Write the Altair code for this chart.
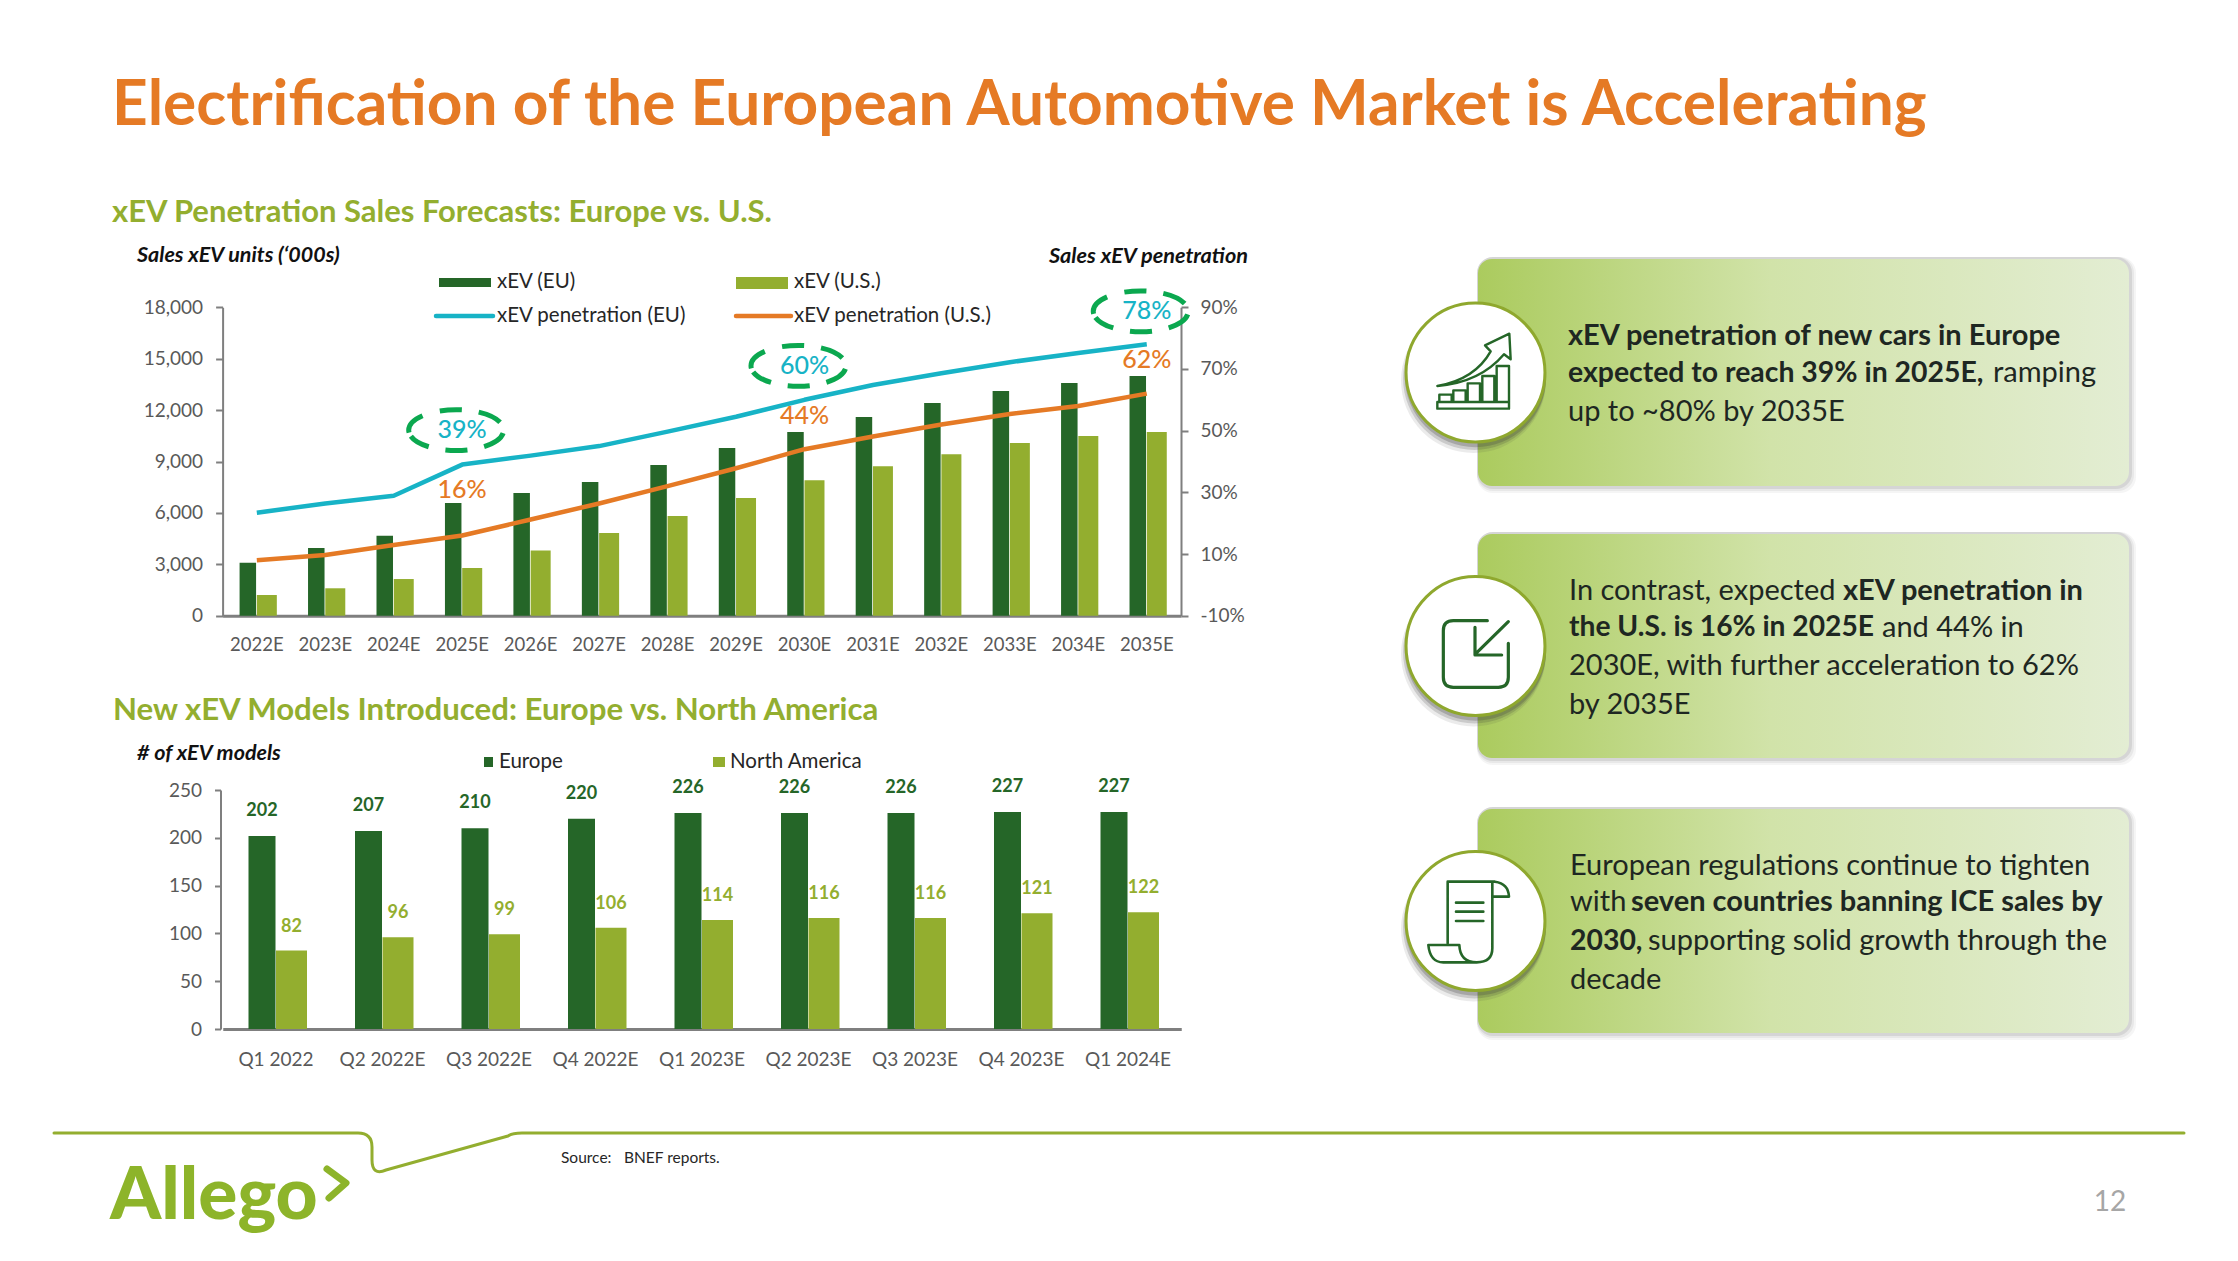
import altair as alt
import pandas as pd

# ---------- data ----------
years = ["2022E","2023E","2024E","2025E","2026E","2027E","2028E","2029E","2030E","2031E","2032E","2033E","2034E","2035E"]
sales_eu = [3090,3950,4670,6580,7160,7800,8800,9790,10720,11600,12420,13120,13580,13990]
sales_us = [1210,1600,2140,2780,3810,4830,5820,6870,7900,8720,9420,10080,10490,10720]
pen_eu = [23.4,26.4,28.9,39,41.9,45,49.7,54.5,60,64.8,68.6,72.2,75.2,78]
pen_us = [8,9.7,12.9,16,21.2,26.4,32,37.8,44,48.1,52,55.4,58,62]

quarters = ["Q1 2022","Q2 2022E","Q3 2022E","Q4 2022E","Q1 2023E","Q2 2023E","Q3 2023E","Q4 2023E","Q1 2024E"]
models_eu = [202,207,210,220,226,226,226,227,227]
models_na = [82,96,99,106,114,116,116,121,122]

df1 = pd.DataFrame({"year":years,"eu":sales_eu,"us":sales_us,"peu":pen_eu,"pus":pen_us})
df2 = pd.DataFrame({"q":quarters,"eu":models_eu,"na":models_na})

# ---------- style ----------
W, H = 2222, 1245
FONT = "Lato"
ORANGE = "#E57A25"
LGREEN = "#93AE2F"
DGREEN = "#256628"
TEAL = "#17B3C6"
DASH = "#0BA84F"
GRAY = "#595959"
AXISC = "#7F7F7F"
INK = "#1E2722"

def px(v):
    return alt.value(v - 8)

def one(**kw):
    return alt.Chart(alt.Data(values=[kw]))

def T(text, x, y, size, color=INK, weight="normal", style="normal", align="left", font=FONT):
    return one(t=text).mark_text(font=font, fontSize=size, color=color, fontWeight=weight,
                                 fontStyle=style, align=align, baseline="middle"
                                 ).encode(x=px(x), y=px(y), text="t:N")

def box(x0, y0, x1, y1, color, radius=0, opacity=1.0):
    return one(a=1).mark_rect(color=color, cornerRadius=radius, opacity=opacity).encode(
        x=px(x0), x2=px(x1), y=px(y0), y2=px(y1))

def shape(path, x, y, size, stroke, sw, cap="round"):
    return one(a=1).mark_point(shape=path, size=size, stroke=stroke, strokeWidth=sw, opacity=1,
                               strokeCap=cap, strokeJoin="round").encode(x=px(x), y=px(y))

layers = []

# ---------- panels ----------
grad = alt.LinearGradient(gradient="linear", x1=0, x2=1, y1=0, y2=0,
                          stops=[alt.GradientStop(color="#ABCB5E", offset=0),
                                 alt.GradientStop(color="#D1E3A9", offset=0.45),
                                 alt.GradientStop(color="#E3EDD3", offset=1)])
panels = [(259, 486), (534, 758), (809, 1033)]
for (y0, y1) in panels:
    for d, op in ((7, 0.06), (5, 0.08), (3, 0.12)):
        layers.append(box(1478 - 1, y0 - 2, 2129 + d, y1 + d, "#555555", 16, op))
    layers.append(box(1478, y0, 2129, y1, grad, 14))
    cy = (y0 + y1) / 2
    for (dx, dy, op, s) in ((-2, 8, 0.10, 21000), (-1, 6, 0.18, 20400), (0, 4, 0.25, 20000)):
        layers.append(one(a=1).mark_point(shape="circle", filled=True, color="#3A3A3A", opacity=op, size=s)
                      .encode(x=px(1475.5 + dx), y=px(cy + dy)))
    layers.append(one(a=1).mark_point(shape="circle", filled=True, fill="white", stroke="#8FA82E",
                                      strokeWidth=3, opacity=1, size=19300)
                  .encode(x=px(1475.5), y=px(cy)))

# icons, paths in crop units (1/3 px)
ICON = 4 / 9
icon1 = ("M112 318H327V338H112Z M118 318V296H155V318 M160 318V283H197V318 M203 318V262H240V318 "
         "M247 318V240H283V318 M290 318V210H327V318 "
         "M112 270Q225 250 272 166L255 148L328 113L332 190L312 175Q240 260 112 270Z")
layers.append(shape(icon1, 1400, 296, ICON, DGREEN, 2.4))
icon2 = ("M262 152L160 152Q130 152 130 182L130 322Q130 352 160 352L295 352Q325 352 325 322L325 220 "
         "M325 155L225 253 M225 172L225 255L305 255")
layers.append(shape(icon2, 1400, 570, ICON, DGREEN, 3.2))
icon3 = ("M143 295L143 110L285 110Q325 115 327 155L277 155L277 110 "
         "M277 155L277 310Q277 352 230 352Q180 352 178 300L85 300Q90 352 130 352L230 352 "
         "M168 173L250 173 M168 200L250 200 M168 228L250 228")
layers.append(shape(icon3, 1400, 845, ICON, DGREEN, 2.6))

# ---------- header ----------
layers.append(T("Electrification of the European Automotive Market is Accelerating", 112, 106, 62.2, ORANGE, "bold"))
layers.append(T("xEV Penetration Sales Forecasts: Europe vs. U.S.", 112, 213, 31, LGREEN, "bold"))
layers.append(T("New xEV Models Introduced: Europe vs. North America", 113, 711, 31.2, LGREEN, "bold"))
layers.append(T("Sales xEV units (‘000s)", 137, 256, 21.5, "#111111", "bold", "italic"))
layers.append(T("Sales xEV penetration", 1248, 256, 21.7, "#111111", "bold", "italic", "right"))
layers.append(T("# of xEV models", 137, 754, 21.5, "#111111", "bold", "italic"))

# ---------- legends ----------
layers.append(box(439, 278, 491, 287, DGREEN))
layers.append(box(736, 277, 788, 289, LGREEN))
for (x0, x1, c) in ((436, 493, TEAL), (736, 791, ORANGE)):
    layers.append(one(a=1).mark_rule(color=c, strokeWidth=4.5, strokeCap="round").encode(x=px(x0), x2=px(x1), y=px(316)))
layers.append(T("xEV (EU)", 497, 282, 20.5, "#262626"))
layers.append(T("xEV (U.S.)", 794, 282, 20.5, "#262626"))
layers.append(T("xEV penetration (EU)", 497, 316, 20.5, "#262626"))
layers.append(T("xEV penetration (U.S.)", 794, 316, 20.5, "#262626"))
layers.append(box(484, 757, 493, 767, DGREEN))
layers.append(box(713, 757, 725, 767, LGREEN))
layers.append(T("Europe", 499, 762, 20.5, "#262626"))
layers.append(T("North America", 730, 762, 20.5, "#262626"))

# ---------- chart 1 ----------
L1, R1, B1, T1 = 222.6 - 8, 1181 - 8, 615.7 - 8, 307.3 - 8
xs1 = alt.Scale(type="band", domain=years, range=[L1, R1], paddingInner=0, paddingOuter=0)
ys1 = alt.Scale(domain=[0, 18000], range=[B1, T1], nice=False, zero=True)
yp1 = alt.Scale(domain=[-10, 90], range=[B1, T1], nice=False, zero=False)
base1 = alt.Chart(df1)

y_left = alt.Axis(orient="left", offset=-L1, values=list(range(0, 18001, 3000)), format=",d", grid=False, title=None,
                  domainColor=AXISC, domainWidth=2, tickColor=AXISC, tickWidth=2, tickSize=7, labelColor=GRAY,
                  labelFont=FONT, labelFontSize=19, labelPadding=13)
y_right = alt.Axis(orient="right", offset=-(W - R1), values=list(range(-10, 91, 20)), labelExpr="datum.value + '%'",
                   grid=False, title=None, domainColor=AXISC, domainWidth=2, tickColor=AXISC, tickWidth=2, tickSize=7,
                   labelColor=GRAY, labelFont=FONT, labelFontSize=19, labelPadding=12)
x_bot = alt.Axis(orient="bottom", offset=B1 - H, grid=False, title=None, ticks=False, labelAngle=0,
                 domainColor=AXISC, domainWidth=3, labelColor=GRAY, labelFont=FONT, labelFontSize=18.5, labelPadding=20)

layers.append(base1.mark_bar(size=16.5, color=DGREEN, xOffset=-9).encode(
    x=alt.X("year:N", scale=xs1, axis=None), y=alt.Y("eu:Q", scale=ys1, axis=y_left)))
layers.append(base1.mark_bar(size=20, color=LGREEN, xOffset=10).encode(
    x=alt.X("year:N", scale=xs1, axis=None), y=alt.Y("us:Q", scale=ys1, axis=None)))
layers.append(base1.mark_line(color=TEAL, strokeWidth=4.5, strokeJoin="round").encode(
    x=alt.X("year:N", scale=xs1, axis=x_bot), y=alt.Y("peu:Q", scale=yp1, axis=y_right)))
layers.append(base1.mark_line(color=ORANGE, strokeWidth=4.5, strokeJoin="round").encode(
    x=alt.X("year:N", scale=xs1, axis=None), y=alt.Y("pus:Q", scale=yp1, axis=None)))

ELL = "M-1 0A1 .43 0 1 1 1 0A1 .43 0 1 1 -1 0Z"
for (yr, col, yoff, color, circ) in (("2025E", "peu", -34.5, TEAL, True), ("2025E", "pus", -46, ORANGE, False),
                                     ("2030E", "peu", -34, TEAL, True), ("2030E", "pus", -33, ORANGE, False),
                                     ("2035E", "peu", -33, TEAL, True), ("2035E", "pus", -34, ORANGE, False)):
    sub = df1[df1.year == yr]
    b = alt.Chart(sub)
    layers.append(b.transform_calculate(lbl=f"format(datum.{col},'.0f') + '%'").mark_text(
        font=FONT, fontSize=25, fontWeight=500, color=color, yOffset=yoff, baseline="middle").encode(
        x=alt.X("year:N", scale=xs1, axis=None), y=alt.Y(col + ":Q", scale=yp1, axis=None), text="lbl:N"))
    if circ:
        layers.append(b.mark_point(shape=ELL, size=9025, stroke=DASH, strokeWidth=5, opacity=1, yOffset=yoff, xOffset=-6,
                                   strokeDash=[21, 18, 22, 17, 24, 12, 24, 17, 22, 17, 21, 4]).encode(
            x=alt.X("year:N", scale=xs1, axis=None), y=alt.Y(col + ":Q", scale=yp1, axis=None)))

# ---------- chart 2 ----------
L2, R2, B2, T2 = 222.75 - 8, 1181.25 - 8, 1029 - 8, 790 - 8
xs2 = alt.Scale(type="band", domain=quarters, range=[L2, R2], paddingInner=0, paddingOuter=0)
ys2 = alt.Scale(domain=[0, 250], range=[B2, T2], nice=False, zero=True)
base2 = alt.Chart(df2)
y2_axis = alt.Axis(orient="left", offset=-(220.5 - 8), values=list(range(0, 251, 50)), grid=False, title=None,
                   domainColor=AXISC, domainWidth=2, tickColor=AXISC, tickWidth=2, tickSize=6, labelColor=GRAY,
                   labelFont=FONT, labelFontSize=19, labelPadding=13)
x2_axis = alt.Axis(orient="bottom", offset=B2 - H, grid=False, title=None, ticks=False, labelAngle=0,
                   domainColor=AXISC, domainWidth=3, labelColor=GRAY, labelFont=FONT, labelFontSize=19, labelPadding=21)
layers.append(base2.mark_bar(size=27, color=DGREEN, xOffset=-14).encode(
    x=alt.X("q:N", scale=xs2, axis=x2_axis), y=alt.Y("eu:Q", scale=ys2, axis=y2_axis)))
layers.append(base2.mark_bar(size=31, color=LGREEN, xOffset=15.5).encode(
    x=alt.X("q:N", scale=xs2, axis=None), y=alt.Y("na:Q", scale=ys2, axis=None)))
layers.append(base2.mark_text(font=FONT, fontSize=18, fontWeight="bold", color=DGREEN, xOffset=-14, yOffset=-25, baseline="middle").encode(
    x=alt.X("q:N", scale=xs2, axis=None), y=alt.Y("eu:Q", scale=ys2, axis=None), text="eu:Q"))
layers.append(base2.mark_text(font=FONT, fontSize=18, fontWeight="bold", color=LGREEN, xOffset=15.5, yOffset=-24, baseline="middle").encode(
    x=alt.X("q:N", scale=xs2, axis=None), y=alt.Y("na:Q", scale=ys2, axis=None), text="na:Q"))

# ---------- right text ----------
TS = 29
runs = [
    ("xEV penetration of new cars in Europe", 1568, 336, "bold", 29),
    ("expected to reach 39% in 2025E,", 1568, 373, "bold", 28.4),
    ("ramping", 1993, 373, "normal", 29),
    ("up to ~80% by 2035E", 1568, 412, "normal", 29),
    ("In contrast, expected", 1569, 591, "normal", 29),
    ("xEV penetration in", 1843, 591, "bold", 29),
    ("the U.S. is 16% in 2025E", 1569, 628, "bold", 28.2),
    ("and 44% in", 1882, 628, "normal", 29),
    ("2030E, with further acceleration to 62%", 1569, 666, "normal", 29),
    ("by 2035E", 1569, 705, "normal", 29),
    ("European regulations continue to tighten", 1570, 866, "normal", 29),
    ("with", 1570, 902, "normal", 29),
    ("seven countries banning ICE sales by", 1631, 902, "bold", 29),
    ("2030,", 1570, 941, "bold", 28.4),
    ("supporting solid growth through the", 1648, 941, "normal", 29),
    ("decade", 1570, 980, "normal", 29),
]
for (t, x, y, w, s) in runs:
    layers.append(T(t, x, y, s, INK, w))

# ---------- footer ----------
footer = "M54 1133L358 1133Q372 1133 372 1147L372 1160Q372 1176 386 1170L508 1136Q512 1133 522 1133L2184 1133"
layers.append(shape(footer, 0, 0, 4, LGREEN, 3))
layers.append(T("Allego", 110, 1197, 73, "#8DB42A", 900))
layers.append(shape("M327 1169L346 1183L329 1198", 0, 0, 4, "#8DB42A", 7))
layers.append(T("Source:", 561, 1158, 15.5, "#262626"))
layers.append(T("BNEF reports.", 624, 1158, 15.5, "#262626"))
layers.append(T("12", 2110, 1203, 28, "#A6A6A6", align="center"))

chart = alt.layer(*layers).resolve_scale(x="independent", y="independent").properties(
    width=W, height=H, padding=0, background="white",
    autosize=alt.AutoSizeParams(type="none")).configure_view(stroke=None)

chart.save("out.html", embed_options={"renderer": "svg", "actions": False})
